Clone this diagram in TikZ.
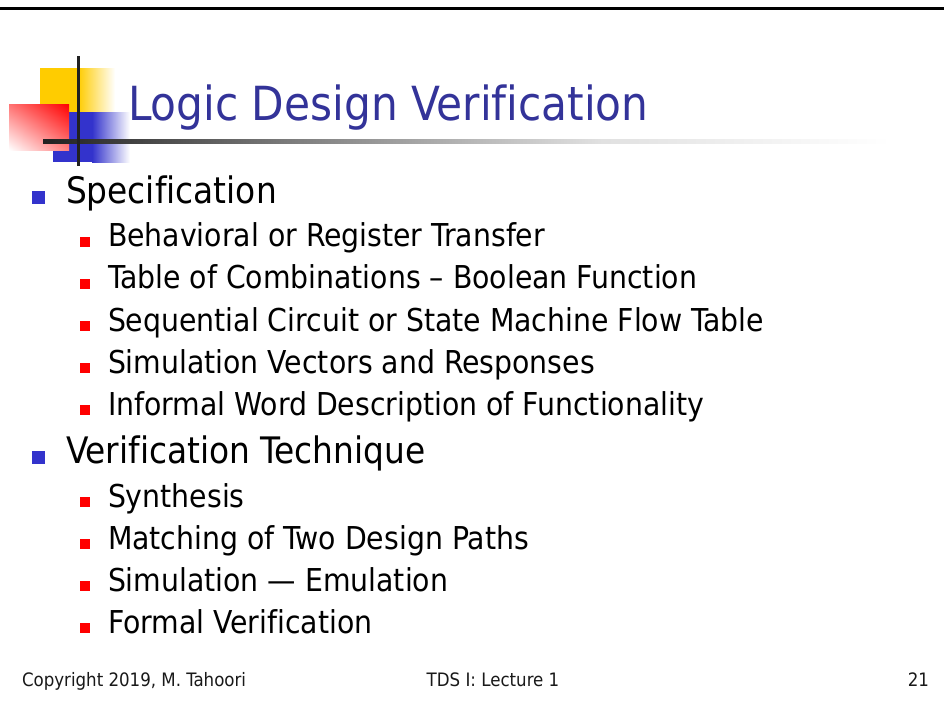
\documentclass[tikz,border=0pt]{standalone}
\usepackage{fontspec}
\setmainfont[Ligatures={TeX,NoCommon}]{DejaVu Sans Condensed}
\usetikzlibrary{positioning,shadings}

\begin{document}
\begin{tikzpicture}[x=1pt,y=-1pt,
  mainitem/.style={anchor=base west,inner sep=0pt,outer sep=0pt,font=\fontsize{36.5}{44}\selectfont},
  subitem/.style={anchor=base west,inner sep=0pt,outer sep=0pt,font=\fontsize{31.5}{38}\selectfont},
  foottext/.style={anchor=base,inner sep=0pt,outer sep=0pt,text=footColor,font=\fontsize{18.5}{22}\selectfont}]
\definecolor{titleColor}{RGB}{51,51,153}
\definecolor{bulletBlue}{RGB}{51,51,204}
\definecolor{bulletRed}{RGB}{255,0,0}
\definecolor{logoYellow}{RGB}{255,204,0}
\definecolor{lineColor}{gray}{0.13}
\definecolor{footColor}{gray}{0.1}
\path[use as bounding box,fill=white] (0,0) rectangle (944,720);

\path[fill=black] (0,6.5) rectangle (944,9.5);

\path[fill=logoYellow] (40,68) rectangle (78,112);
\shade[left color=logoYellow,right color=white] (78,68) rectangle (115,112);
\path[fill=bulletBlue] (53,112) rectangle (92,162);
\shade[left color=bulletBlue,right color=white] (92,112) rectangle (130,162);
\shade[upper right=red,upper left=red!55,lower right=red!50,lower left=white] (9,104) rectangle (69,150);

\shade[left color=lineColor,right color=black!50] (43,139) rectangle (300,143);
\shade[left color=black!50,right color=black!12] (300,139) rectangle (600,143);
\shade[left color=black!12,right color=white] (600,139) rectangle (890,143);
\path[fill=lineColor] (76.5,56) rectangle (79.5,166);

\node[anchor=base west,inner sep=0pt,outer sep=0pt,text=titleColor,font=\fontsize{47}{56}\selectfont] (title) at (128,120) {Logic Design Verification};

\path[fill=bulletBlue] (32,191) rectangle (45,203.5);
\node[mainitem] (spec) at (66,203.3) {Specification};
\foreach \y/\t [count=\i] in {246.7/Behavioral or Register Transfer,
    288.7/Table of Combinations -- Boolean Function,
    331/Sequential Circuit or State Machine Flow Table,
    373.3/Simulation Vectors and Responses,
    415.3/Informal Word Description of Functionality}{
  \path[fill=bulletRed] (79.5,\y-10) rectangle (89.5,\y);
  \node[subitem] (spec\i) at (108,\y) {\t};
}

\path[fill=bulletBlue] (32,451) rectangle (45,463.5);
\node[mainitem] (tech) at (66,463.3) {Verification Technique};
\foreach \y/\t [count=\i] in {507.3/Synthesis,
    549.3/Matching of Two Design Paths,
    591/Simulation --- Emulation,
    633/Formal Verification}{
  \path[fill=bulletRed] (79.5,\y-10) rectangle (89.5,\y);
  \node[subitem] (tech\i) at (108,\y) {\t};
}

\node[foottext,anchor=base west] (copy) at (22,686.5) {Copyright 2019, M. Tahoori};
\node[foottext] (lect) at (493,686.5) {TDS I: Lecture 1};
\node[foottext,anchor=base east] (page) at (929,686.5) {21};
\end{tikzpicture}
\end{document}
